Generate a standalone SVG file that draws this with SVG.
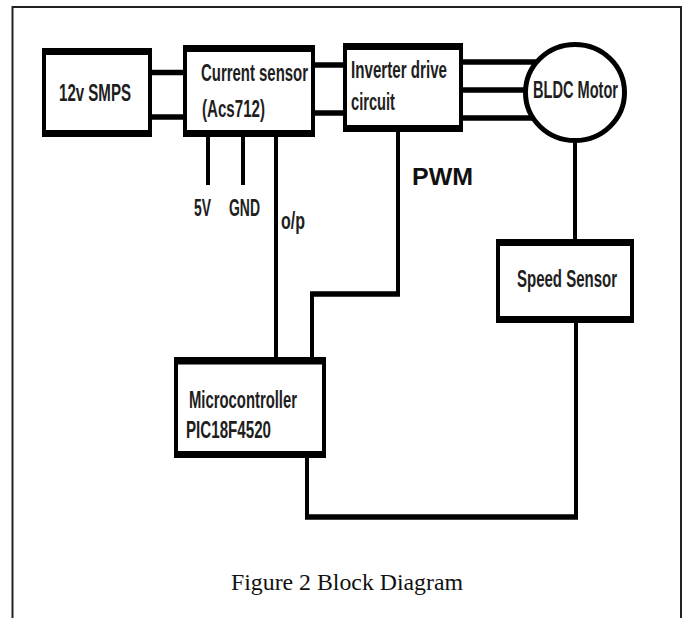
<svg xmlns="http://www.w3.org/2000/svg" width="687" height="618" viewBox="0 0 687 618">
  <style>
    .frame { fill: none; stroke: #222; stroke-width: 2; }
    .box { fill: #fff; stroke: #000; stroke-width: 4; }
    .bar { stroke: #000; stroke-width: 7; }
    .wire { fill: none; stroke: #000; stroke-width: 4; }
    .bus { fill: none; stroke: #000; stroke-width: 5.5; }
    .lbl { font-family: "Liberation Sans", Arial, sans-serif; font-weight: bold; font-size: 23px; fill: #1e1e1e; }
    .pwm { font-family: "Liberation Sans", Arial, sans-serif; font-weight: bold; font-size: 23px; fill: #111; }
    .cap { font-family: "Liberation Serif", "Times New Roman", serif; font-size: 23.5px; fill: #111; }
  </style>

  <rect width="687" height="618" fill="#fff"/>
  <!-- page frame, open at the bottom -->
  <path class="frame" d="M12.5,618 V7 H681 V618"/>

  <!-- connectors -->
  <g id="connectors">
    <line class="bus" x1="150" y1="72.5" x2="185" y2="72.5"/>
    <line class="bus" x1="150" y1="117" x2="185" y2="117"/>
    <line class="bus" x1="313" y1="65" x2="345" y2="65"/>
    <line class="bus" x1="313" y1="113" x2="345" y2="113"/>
    <line class="bus" x1="461" y1="62" x2="560" y2="62"/>
    <line class="bus" x1="461" y1="90" x2="560" y2="90"/>
    <line class="bus" x1="461" y1="118" x2="560" y2="118"/>
    <line class="wire" x1="208" y1="135" x2="208" y2="185"/>
    <line class="wire" x1="243" y1="135" x2="243" y2="185"/>
    <line class="wire" x1="276" y1="135" x2="276" y2="359"/>
    <path class="wire" d="M398,130 V294 H312 V359"/>
    <line class="wire" x1="575" y1="140" x2="575" y2="241"/>
    <path class="wire" d="M576,321 V517 H307 V456"/>
    <line class="bus" x1="305" y1="517" x2="578" y2="517"/>
    <line class="bus" x1="310" y1="294" x2="400" y2="294"/>
  </g>

  <g id="smps">
    <rect class="box" x="44" y="50" width="106" height="85"/>
    <line class="bar" x1="42" y1="51.5" x2="152" y2="51.5"/>
    <line class="bar" x1="42" y1="133.5" x2="152" y2="133.5"/>
    <text class="lbl" x="59" y="101" textLength="72" lengthAdjust="spacingAndGlyphs">12v SMPS</text>
  </g>

  <g id="current-sensor">
    <rect class="box" x="185" y="47" width="128" height="88"/>
    <line class="bar" x1="183" y1="48.5" x2="315" y2="48.5"/>
    <line class="bar" x1="183" y1="133.5" x2="315" y2="133.5"/>
    <text class="lbl" x="201" y="81" textLength="107" lengthAdjust="spacingAndGlyphs">Current sensor</text>
    <text class="lbl" x="202" y="117" textLength="63" lengthAdjust="spacingAndGlyphs">(Acs712)</text>
  </g>

  <g id="inverter">
    <rect class="box" x="345" y="45" width="116" height="85"/>
    <line class="bar" x1="343" y1="46.5" x2="463" y2="46.5"/>
    <line class="bar" x1="343" y1="128.5" x2="463" y2="128.5"/>
    <text class="lbl" x="351" y="78" textLength="96" lengthAdjust="spacingAndGlyphs">Inverter drive</text>
    <text class="lbl" x="351" y="110" textLength="44" lengthAdjust="spacingAndGlyphs">circuit</text>
  </g>

  <g id="motor">
    <ellipse cx="575" cy="92.5" rx="49.5" ry="48" fill="#fff" stroke="#000" stroke-width="5"/>
    <text class="lbl" x="533" y="98" textLength="85" lengthAdjust="spacingAndGlyphs">BLDC Motor</text>
  </g>

  <g id="labels">
    <text class="lbl" x="194" y="216" textLength="17" lengthAdjust="spacingAndGlyphs">5V</text>
    <text class="lbl" x="229" y="216" textLength="31" lengthAdjust="spacingAndGlyphs">GND</text>
    <text class="lbl" x="281" y="229" textLength="24" lengthAdjust="spacingAndGlyphs">o/p</text>
    <text class="pwm" x="412" y="185" textLength="61" lengthAdjust="spacingAndGlyphs">PWM</text>
  </g>

  <g id="speed-sensor">
    <rect class="box" x="498" y="241" width="134" height="80"/>
    <line class="bar" x1="496" y1="242.5" x2="634" y2="242.5"/>
    <line class="bar" x1="496" y1="319.5" x2="634" y2="319.5"/>
    <text class="lbl" x="517" y="287" textLength="100" lengthAdjust="spacingAndGlyphs">Speed Sensor</text>
  </g>

  <g id="microcontroller">
    <rect class="box" x="176" y="359" width="148" height="97"/>
    <line class="bar" x1="174" y1="361" x2="326" y2="361"/>
    <line class="bar" x1="174" y1="454.5" x2="326" y2="454.5"/>
    <text class="lbl" x="189" y="408" textLength="108" lengthAdjust="spacingAndGlyphs">Microcontroller</text>
    <text class="lbl" x="186" y="438" textLength="85" lengthAdjust="spacingAndGlyphs">PIC18F4520</text>
  </g>

  <text class="cap" x="231" y="590" textLength="232" lengthAdjust="spacingAndGlyphs">Figure 2 Block Diagram</text>
</svg>
